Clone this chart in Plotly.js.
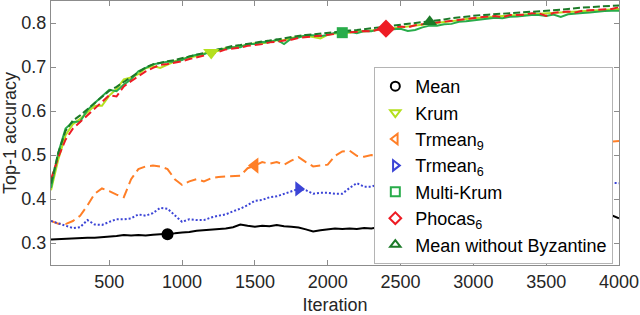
<!DOCTYPE html>
<html>
<head>
<meta charset="utf-8">
<script src="https://cdn.plot.ly/plotly-3.0.1.min.js"></script>
<style>html,body{margin:0;padding:0;background:#fff;}#chart{width:640px;height:315px;}</style>
</head>
<body>
<div id="chart"></div>
<script>
// ---------- data ----------
const iterations = [
  100,150,200,250,300,350,400,450,500,550,
  600,650,700,750,800,850,900,950,1000,1050,
  1100,1150,1200,1250,1300,1350,1400,1450,1500,1550,
  1600,1650,1700,1750,1800,1850,1900,1950,2000,2050,
  2100,2150,2200,2250,2300,2350,2400,2450,2500,2550,
  2600,2650,2700,2750,2800,2850,2900,2950,3000,3050,
  3100,3150,3200,3250,3300,3350,3400,3450,3500,3550,
  3600,3650,3700,3750,3800,3850,3900,3950,4000];

const meanAcc = [
  0.308,0.309,0.309,0.310,0.311,0.312,0.312,0.313,0.314,0.316,
  0.318,0.317,0.318,0.317,0.319,0.320,0.320,0.322,0.324,0.325,
  0.328,0.329,0.330,0.332,0.333,0.336,0.342,0.339,0.337,0.339,
  0.338,0.341,0.338,0.337,0.335,0.331,0.326,0.329,0.331,0.333,
  0.332,0.333,0.332,0.334,0.333,0.336,0.339,0.340,0.338,0.339,
  0.340,0.341,0.342,0.341,0.343,0.344,0.343,0.345,0.346,0.345,
  0.347,0.348,0.347,0.349,0.350,0.349,0.351,0.352,0.351,0.353,
  0.354,0.353,0.355,0.356,0.357,0.358,0.360,0.363,0.356];

const krumAcc = [
  0.420,0.490,0.545,0.570,0.582,0.598,0.612,0.612,0.635,0.650,
  0.672,0.676,0.684,0.697,0.702,0.698,0.706,0.713,0.718,0.721,
  0.725,0.731,0.733,0.737,0.743,0.745,0.747,0.750,0.754,0.754,
  0.757,0.761,0.761,0.766,0.769,0.771,0.768,0.765,0.773,0.776,
  0.777,0.778,0.781,0.781,0.783,0.784,0.786,0.788,0.790,0.792,
  0.794,0.796,0.797,0.799,0.802,0.804,0.806,0.809,0.811,0.812,
  0.813,0.815,0.816,0.817,0.818,0.819,0.820,0.821,0.822,0.823,
  0.824,0.825,0.826,0.827,0.828,0.829,0.830,0.831,0.832];

const trmean9Acc = [
  0.350,0.344,0.343,0.350,0.362,0.385,0.412,0.424,0.418,0.410,
  0.404,0.445,0.468,0.474,0.476,0.474,0.468,0.445,0.432,0.440,
  0.445,0.440,0.447,0.450,0.451,0.452,0.453,0.470,0.476,0.484,
  0.480,0.484,0.478,0.487,0.495,0.484,0.474,0.476,0.478,0.498,
  0.508,0.510,0.498,0.496,0.500,0.494,0.490,0.497,0.500,0.498,
  0.502,0.505,0.503,0.507,0.510,0.508,0.512,0.514,0.511,0.515,
  0.517,0.514,0.518,0.520,0.517,0.521,0.523,0.520,0.524,0.526,
  0.523,0.527,0.529,0.526,0.528,0.531,0.529,0.531,0.532];

const trmean6Acc = [
  0.350,0.345,0.340,0.334,0.336,0.352,0.342,0.341,0.348,0.354,
  0.354,0.356,0.365,0.362,0.368,0.380,0.378,0.362,0.348,0.354,
  0.352,0.352,0.358,0.362,0.365,0.372,0.378,0.386,0.396,0.398,
  0.404,0.406,0.412,0.418,0.423,0.420,0.412,0.414,0.414,0.412,
  0.412,0.425,0.436,0.428,0.428,0.434,0.436,0.432,0.426,0.426,
  0.428,0.430,0.429,0.431,0.430,0.432,0.431,0.433,0.432,0.434,
  0.433,0.432,0.434,0.435,0.433,0.434,0.436,0.435,0.434,0.436,
  0.435,0.437,0.436,0.435,0.437,0.436,0.437,0.436,0.436];

const multiKrumAcc = [
  0.425,0.505,0.560,0.575,0.576,0.602,0.618,0.632,0.648,0.645,
  0.660,0.672,0.690,0.698,0.706,0.709,0.712,0.712,0.716,0.724,
  0.728,0.729,0.736,0.740,0.741,0.745,0.745,0.752,0.752,0.757,
  0.756,0.762,0.752,0.765,0.767,0.772,0.772,0.770,0.773,0.778,
  0.778,0.780,0.777,0.782,0.781,0.786,0.784,0.786,0.787,0.782,
  0.784,0.790,0.794,0.794,0.797,0.798,0.803,0.804,0.806,0.808,
  0.810,0.812,0.811,0.814,0.815,0.817,0.818,0.818,0.816,0.819,
  0.814,0.820,0.822,0.823,0.824,0.826,0.827,0.828,0.828];

const phocas6Acc = [
  0.445,0.495,0.535,0.560,0.575,0.590,0.606,0.622,0.636,0.633,
  0.656,0.668,0.680,0.690,0.698,0.705,0.707,0.710,0.713,0.718,
  0.722,0.726,0.730,0.734,0.740,0.742,0.744,0.748,0.750,0.752,
  0.756,0.757,0.760,0.762,0.766,0.768,0.770,0.771,0.773,0.775,
  0.776,0.779,0.780,0.782,0.781,0.785,0.787,0.789,0.792,0.790,
  0.795,0.797,0.799,0.802,0.804,0.806,0.808,0.810,0.812,0.813,
  0.815,0.816,0.813,0.818,0.819,0.819,0.822,0.822,0.816,0.823,
  0.825,0.826,0.824,0.828,0.829,0.830,0.830,0.832,0.836];

const meanNoByzAcc = [
  0.435,0.505,0.555,0.578,0.590,0.604,0.618,0.634,0.646,0.655,
  0.666,0.676,0.688,0.699,0.706,0.710,0.713,0.716,0.720,0.724,
  0.729,0.733,0.737,0.741,0.745,0.748,0.750,0.753,0.756,0.758,
  0.760,0.762,0.765,0.768,0.771,0.773,0.774,0.776,0.778,0.780,
  0.781,0.783,0.784,0.786,0.788,0.789,0.791,0.793,0.796,0.798,
  0.800,0.802,0.803,0.805,0.808,0.811,0.813,0.815,0.817,0.818,
  0.819,0.820,0.822,0.823,0.824,0.825,0.826,0.827,0.828,0.829,
  0.830,0.832,0.834,0.835,0.836,0.837,0.838,0.839,0.840];

const seriesNames = ['Mean','Krum','Trmean<sub>9</sub>','Trmean<sub>6</sub>','Multi-Krum','Phocas<sub>6</sub>','Mean without Byzantine'];
const seriesValues = [meanAcc, krumAcc, trmean9Acc, trmean6Acc, multiKrumAcc, phocas6Acc, meanNoByzAcc];
const markerIterations = [900,1200,1500,1800,2100,2400,2700];
const xTickValues = [500,1000,1500,2000,2500,3000,3500,4000];
const yTickValues = [0.3,0.4,0.5,0.6,0.7,0.8];

// ---------- styles ----------
const styles = [
  {color:'#000000', dash:'solid',        symbol:'circle',         size:12},
  {color:'#b4e01e', dash:'solid',        symbol:'triangle-down',  size:14},
  {color:'#ff7f27', dash:'10px,5px',     symbol:'triangle-left',  size:14},
  {color:'#3b44d6', dash:'2px,2px',      symbol:'triangle-right', size:13},
  {color:'#28ac4a', dash:'solid',        symbol:'square',         size:11},
  {color:'#ee1c24', dash:'8px,4px',      symbol:'diamond',        size:14},
  {color:'#1c7a28', dash:'7px,3px',      symbol:'triangle-up',    size:13}
];

const traces = [];
// lines
seriesValues.forEach((vals, i) => {
  traces.push({
    x: iterations, y: vals, type:'scatter', mode:'lines', showlegend:false,
    line:{color:styles[i].color, width:2, dash:styles[i].dash, shape:'linear'},
    hoverinfo:'skip'
  });
});
// single filled markers on each curve
seriesValues.forEach((vals, i) => {
  const idx = iterations.indexOf(markerIterations[i]);
  traces.push({
    x:[iterations[idx]], y:[vals[idx]], type:'scatter', mode:'markers', showlegend:false,
    marker:{color:styles[i].color, symbol:styles[i].symbol, size:styles[i].size, line:{width:0}},
    hoverinfo:'skip'
  });
});
// legend entries (open symbols)
seriesValues.forEach((vals, i) => {
  traces.push({
    x:[null], y:[null], type:'scatter', mode:'markers', name:seriesNames[i], showlegend:true,
    marker:{color:styles[i].color, symbol:styles[i].symbol + '-open', size:9, line:{width:2, color:styles[i].color}}
  });
});

const axisCommon = {
  showline:true, linecolor:'#8c8c8c', linewidth:1, mirror:'ticks',
  ticks:'inside', ticklen:5, tickcolor:'#8c8c8c', tickwidth:1,
  showgrid:false, zeroline:false,
  tickfont:{size:18, color:'#262626'}
};

const layout = {
  width:640, height:315,
  margin:{l:51, r:21, t:1, b:50},
  paper_bgcolor:'#ffffff', plot_bgcolor:'#ffffff',
  font:{family:'Liberation Sans, Arial, Helvetica, sans-serif', size:18, color:'#262626'},
  xaxis: Object.assign({}, axisCommon, {
    range:[100,4000], tickvals:xTickValues, ticktext:xTickValues.map(String),
    title:{text:'Iteration', font:{size:18, color:'#262626'}, standoff:10}, automargin:false
  }),
  yaxis: Object.assign({}, axisCommon, {
    range:[0.25,0.85], tickvals:yTickValues, ticktext:yTickValues.map(v=>v.toFixed(1)),
    title:{text:'Top-1 accuracy', font:{size:18, color:'#262626'}, standoff:2}, automargin:false
  }),
  legend:{
    x:0.99, xanchor:'right', y:0.75, yanchor:'top',
    bgcolor:'#ffffff', bordercolor:'#b4b4b4', borderwidth:1,
    font:{size:18, color:'#000000'}, tracegroupgap:0, itemwidth:30
  },
  showlegend:true
};

Plotly.newPlot('chart', traces, layout, {staticPlot:true, displayModeBar:false});
</script>
</body>
</html>
